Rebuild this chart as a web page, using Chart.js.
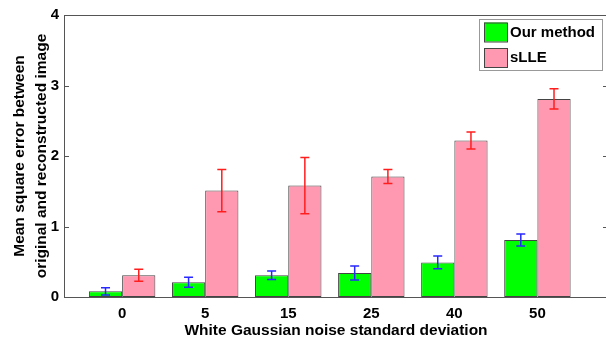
<!DOCTYPE html>
<html>
<head>
<meta charset="utf-8">
<script src="https://cdn.jsdelivr.net/npm/chart.js@4"></script>
<style>
  html, body { margin: 0; padding: 0; background: #fff; overflow: hidden; }
  #wrap { width: 612px; height: 339px; }
</style>
</head>
<body>
<div id="wrap"><canvas id="mseChart"></canvas></div>
<script>
// noise levels (x categories)
const categories = ["0", "5", "15", "25", "40", "50"];
// mean square error + error bar half-length
const ourMethod = [0.08, 0.21, 0.31, 0.34, 0.49, 0.81];
const ourMethodErr = [0.05, 0.07, 0.06, 0.10, 0.09, 0.085];
const sLLE = [0.31, 1.51, 1.58, 1.71, 2.22, 2.81];
const sLLEErr = [0.085, 0.30, 0.40, 0.10, 0.12, 0.145];
const yTicks = [0, 1, 2, 3, 4];

const errors = [ourMethodErr, sLLEErr];
const errColors = ["rgb(40,40,255)", "rgb(255,30,30)"];
const FONT = "'Liberation Sans', Arial, sans-serif";

// bars sit on a linear axis (positions 1..6) like matlab does
const toPoints = (arr) => arr.map((v, i) => ({ x: i + 1, y: v }));

// error bars
const errorBars = {
  id: "errorBars",
  afterDatasetsDraw(chart) {
    const ctx = chart.ctx;
    const y = chart.scales.y;
    chart.data.datasets.forEach((ds, d) => {
      const meta = chart.getDatasetMeta(d);
      meta.data.forEach((bar, i) => {
        const v = ds.data[i].y;
        const e = errors[d][i];
        const top = y.getPixelForValue(v + e);
        const bot = y.getPixelForValue(v - e);
        ctx.save();
        ctx.strokeStyle = errColors[d];
        ctx.lineWidth = 1.5;
        ctx.beginPath();
        ctx.moveTo(bar.x, top);
        ctx.lineTo(bar.x, bot);
        ctx.moveTo(bar.x - 4.5, top);
        ctx.lineTo(bar.x + 4.5, top);
        ctx.moveTo(bar.x - 4.5, bot);
        ctx.lineTo(bar.x + 4.5, bot);
        ctx.stroke();
        ctx.restore();
      });
    });
  },
};

// axes box, inward ticks, legend inside the plot
const boxAndLegend = {
  id: "boxAndLegend",
  afterDraw(chart) {
    const ctx = chart.ctx;
    const a = chart.chartArea;
    const y = chart.scales.y;
    ctx.save();
    ctx.strokeStyle = "#555";
    ctx.lineWidth = 1;
    ctx.strokeRect(Math.round(a.left) + 0.5, Math.round(a.top) + 0.5,
      Math.round(a.right - a.left), Math.round(a.bottom - a.top));
    ctx.beginPath();
    yTicks.forEach((t) => {
      const py = Math.round(y.getPixelForValue(t)) + 0.5;
      ctx.moveTo(a.left, py);
      ctx.lineTo(a.left + 5, py);
      ctx.moveTo(a.right, py);
      ctx.lineTo(a.right - 5, py);
    });
    ctx.stroke();

    // legend
    const lx = 479, ly = 19, lw = 123, lh = 51;
    ctx.fillStyle = "#fff";
    ctx.fillRect(lx, ly, lw, lh);
    ctx.strokeStyle = "#999";
    ctx.strokeRect(lx + 0.5, ly + 0.5, lw, lh);
    ctx.font = "bold 15px " + FONT;
    ctx.textBaseline = "middle";
    chart.data.datasets.forEach((ds, d) => {
      const sy = 22.5 + d * 25.5;
      ctx.fillStyle = ds.backgroundColor;
      ctx.fillRect(484, sy, 23, 19);
      ctx.strokeStyle = "#444";
      ctx.strokeRect(484.5, sy + 0.5, 23, 19);
      ctx.fillStyle = "#000";
      ctx.fillText(ds.label, 510, sy + 10);
    });
    ctx.restore();
  },
};

const config = {
  type: "bar",
  data: {
    datasets: [
      {
        label: "Our method",
        data: toPoints(ourMethod),
        backgroundColor: "rgb(0,255,0)",
        borderColor: "#444",
        borderWidth: 1,
        borderSkipped: false,
      },
      {
        label: "sLLE",
        data: toPoints(sLLE),
        backgroundColor: "rgb(255,153,178)",
        borderColor: "#444",
        borderWidth: 1,
        borderSkipped: false,
      },
    ],
  },
  options: {
    responsive: false,
    animation: false,
    devicePixelRatio: 1,
    categoryPercentage: 0.8,
    barPercentage: 1.0,
    layout: { padding: { top: 15, right: 4, left: 0, bottom: 0 } },
    plugins: { legend: { display: false }, tooltip: { enabled: false } },
    scales: {
      x: {
        type: "linear",
        offset: false,
        min: 0.3,
        max: 6.85,
        grid: { display: false, drawTicks: false, offset: false },
        border: { display: false },
        afterBuildTicks: (scale) => {
          scale.ticks = categories.map((_, i) => ({ value: i + 1 }));
        },
        afterFit: (scale) => { scale.height = 42; },
        ticks: {
          padding: 8,
          color: "#000",
          font: { family: FONT, size: 15, weight: "bold" },
          callback: (v) => categories[v - 1],
        },
        title: {
          display: true,
          text: "White Gaussian noise standard deviation",
          color: "#000",
          font: { family: FONT, size: 15.5, weight: "bold", lineHeight: 1.1 },
          padding: { top: 0, bottom: 0 },
        },
      },
      y: {
        min: 0,
        max: 4,
        grid: { display: false, drawTicks: false },
        border: { display: false },
        afterBuildTicks: (scale) => {
          scale.ticks = yTicks.map((v) => ({ value: v }));
        },
        afterFit: (scale) => { scale.width = 64; },
        ticks: {
          padding: 5,
          color: "#000",
          font: { family: FONT, size: 15, weight: "bold" },
        },
        title: {
          display: true,
          text: ["Mean square error between", "original and reconstructed image"],
          color: "#000",
          font: { family: FONT, size: 15.5, weight: "bold", lineHeight: 1.42 },
          padding: { top: 9, bottom: 0 },
        },
      },
    },
  },
  plugins: [errorBars, boxAndLegend],
};

const canvas = document.getElementById("mseChart");
canvas.width = 612;
canvas.height = 339;
new Chart(canvas, config);
</script>
</body>
</html>
